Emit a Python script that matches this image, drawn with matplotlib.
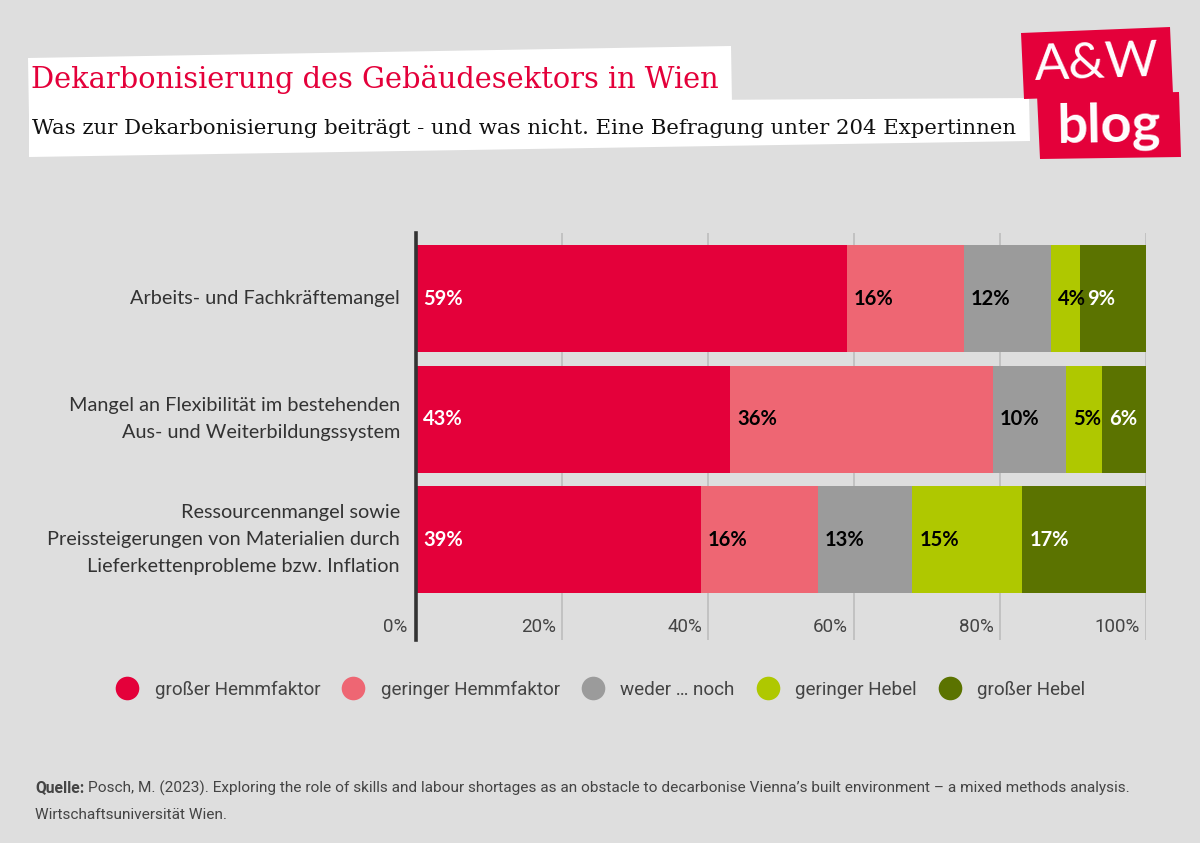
import matplotlib
matplotlib.use("Agg")
import matplotlib.pyplot as plt
from matplotlib.patches import Polygon
from matplotlib.lines import Line2D
import matplotlib.transforms as mtransforms

categories = [
    "Arbeits- und Fachkräftemangel",
    "Mangel an Flexibilität im bestehenden\nAus- und Weiterbildungssystem",
    "Ressourcenmangel sowie\nPreissteigerungen von Materialien durch\nLieferkettenprobleme bzw. Inflation",
]
series_names = ["großer Hemmfaktor", "geringer Hemmfaktor", "weder … noch",
                "geringer Hebel", "großer Hebel"]
gross_hemm = [59, 43, 39]
gering_hemm = [16, 36, 16]
weder_noch = [12, 10, 13]
gering_hebel = [4, 5, 15]
gross_hebel = [9, 6, 17]
x_ticks = [0, 20, 40, 60, 80, 100]
x_ticklabels = ["0%", "20%", "40%", "60%", "80%", "100%"]

colors = ["#e4003a", "#ee6673", "#9b9b9b", "#afc800", "#5b7300"]
label_colors = ["white", "black", "black", "black", "white"]
BG = "#dedede"
RED = "#e4003a"
LABEL_FONT = ["Lato", "DejaVu Sans"]
COND_FONT = ["Roboto", "DejaVu Sans"]

W, H = 1200, 843
fig = plt.figure(figsize=(12, 8.43), dpi=100)
fig.patch.set_facecolor(BG)

def px(x, y):
    return (x / W, 1 - y / H)

# Title boxes (slightly tilted)
for pts in [
    [(28, 58), (731, 46), (732, 104), (29, 116)],
    [(29, 104), (1029, 98), (1030, 141), (29, 157)],
]:
    fig.patches.append(Polygon([px(*p) for p in pts], closed=True,
                               transform=fig.transFigure, facecolor="white",
                               edgecolor="none", zorder=1))
fig.text(*px(31, 80), "Dekarbonisierung des Gebäudesektors in Wien",
         family="DejaVu Serif", fontsize=20.8, color=RED, va="center", ha="left",
         zorder=2)
fig.text(*px(32, 128), "Was zur Dekarbonisierung beiträgt - und was nicht. Eine Befragung unter 204 Expertinnen",
         family="DejaVu Serif", fontsize=15.3, color="#111111", va="center", ha="left",
         zorder=2)

# Logo
for pts in [
    [(1021, 33), (1170, 27), (1173, 94), (1024, 99)],
    [(1037, 95), (1179, 92), (1181, 157), (1040, 159)],
]:
    fig.patches.append(Polygon([px(*p) for p in pts], closed=True,
                               transform=fig.transFigure, facecolor=RED,
                               edgecolor="none", zorder=1))
fig.text(*px(1097, 64), "A&W", family=["Lato", "DejaVu Sans"], fontsize=37,
         fontweight="normal", color="white", ha="center", va="center", rotation=2, zorder=2)
fig.text(*px(1109, 126), "blog", family=["Lato", "DejaVu Sans"], fontsize=39,
         fontweight="bold", color="white", ha="center", va="center", rotation=1, zorder=2)

# Axes
ax = fig.add_axes([416 / W, 1 - 640 / H, 730 / W, 407 / H])
ax.set_facecolor(BG)
series = [gross_hemm, gering_hemm, weder_noch, gering_hebel, gross_hebel]
ypos = list(range(len(categories)))
left = [0] * len(categories)
for vals, col, lcol in zip(series, colors, label_colors):
    ax.barh(ypos, vals, left=left, height=0.888, color=col, zorder=2)
    for y, v, l in zip(ypos, vals, left):
        ax.text(l + 1.0, y, f"{v}%", color=lcol, fontsize=14.5, fontweight="bold",
                family=LABEL_FONT, ha="left", va="center", zorder=3)
    left = [a + b for a, b in zip(left, vals)]

ax.set_xlim(0, 100)
ax.set_ylim(2.834, -0.544)
ax.set_xticks(x_ticks)
ax.set_xticklabels([])
ax.tick_params(axis="x", length=0)
ax.set_yticks([])
for xt in x_ticks[1:]:
    ax.axvline(xt, color="#bdbdbd", lw=1.2, zorder=1)
trans = mtransforms.blended_transform_factory(ax.transData, ax.transAxes)
for xt, lab in zip(x_ticks, x_ticklabels):
    ax.text(xt - 0.8 if xt > 0 else -1.2, 0.032, lab, transform=trans, ha="right",
            va="center", fontsize=13.5, color="#444444", family=COND_FONT)
for s in ["top", "right", "bottom"]:
    ax.spines[s].set_visible(False)
ax.spines["left"].set_color("#333333")
ax.spines["left"].set_linewidth(2.6)
ax.spines["left"].set_zorder(5)

for y, cat in zip(ypos, categories):
    ax.text(-2.2, y, cat, ha="right", va="center", fontsize=14.3, color="#333333",
            family=LABEL_FONT, linespacing=1.68)

# Legend
handles = [Line2D([], [], marker="o", linestyle="none", markersize=17,
                  markerfacecolor=c, markeredgecolor="none") for c in colors]
leg = fig.legend(handles, series_names, loc="center", bbox_to_anchor=px(597, 690),
                 ncol=5, frameon=False, handletextpad=0.45, columnspacing=0.75,
                 prop={"family": COND_FONT, "size": 13.6})
for t in leg.get_texts():
    t.set_color("#444444")

# Source
fig.canvas.draw()
renderer = fig.canvas.get_renderer()
q = fig.text(*px(35, 788), "Quelle:", fontsize=11.3, fontweight="bold",
             color="#444444", family=COND_FONT, ha="left", va="center")
bb = q.get_window_extent(renderer=renderer)
fig.text(bb.x1 / W + 4 / W, 1 - 788 / H,
         "Posch, M. (2023). Exploring the role of skills and labour shortages as an obstacle to decarbonise Vienna’s built environment – a mixed methods analysis.",
         fontsize=11.1, color="#444444", family=COND_FONT, ha="left", va="center")
fig.text(*px(35, 815), "Wirtschaftsuniversität Wien.",
         fontsize=11.1, color="#444444", family=COND_FONT, ha="left", va="center")

fig.savefig("out.png", dpi=100, facecolor=BG)
